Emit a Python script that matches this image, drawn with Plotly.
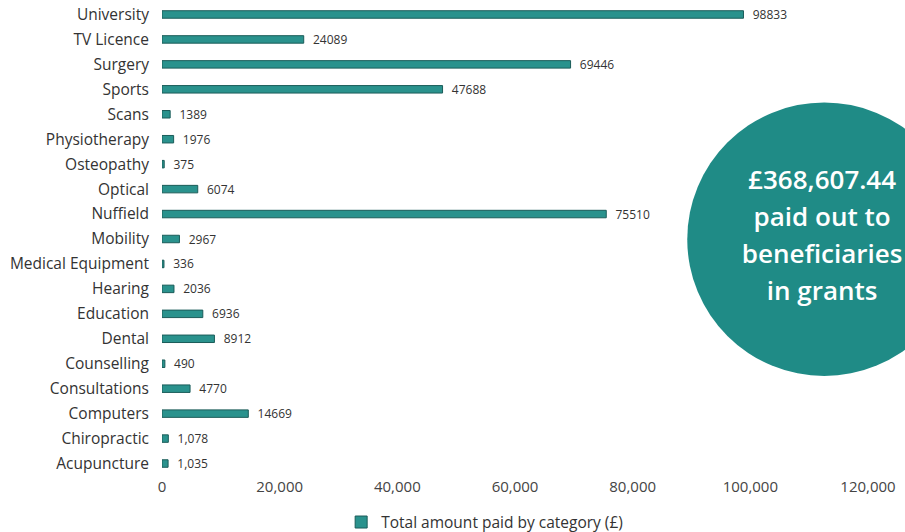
import plotly.graph_objects as go

categories = ["University", "TV Licence", "Surgery", "Sports", "Scans", "Physiotherapy",
              "Osteopathy", "Optical", "Nuffield", "Mobility", "Medical Equipment",
              "Hearing", "Education", "Dental", "Counselling", "Consultations",
              "Computers", "Chiropractic", "Acupuncture"]
values = [98833, 24089, 69446, 47688, 1389, 1976, 375, 6074, 75510, 2967, 336,
          2036, 6936, 8912, 490, 4770, 14669, 1078, 1035]
value_labels = ["98833", "24089", "69446", "47688", "1389", "1976", "375", "6074",
                "75510", "2967", "336", "2036", "6936", "8912", "490", "4770",
                "14669", "1,078", "1,035"]
x_ticks = [0, 20000, 40000, 60000, 80000, 100000, 120000]
x_tick_labels = ["0", "20,000", "40,000", "60,000", "80,000", "100,000", "120,000"]
series_name = "Total amount paid by category (£)"
callout_lines = ["£368,607.44", "paid out to", "beneficiaries", "in grants"]

teal = "#2a928d"
FONT = "Open Sans"

fig = go.Figure()
fig.add_trace(go.Bar(
    x=values, y=categories, orientation="h", name=series_name,
    marker=dict(color=teal, line=dict(color="#1b5c59", width=1)),
    text=["  " + t for t in value_labels], textposition="outside",
    constraintext="none",
    textfont=dict(family=FONT, size=12, color="#333333"),
    cliponaxis=False,
))

# callout text lines on an invisible overlay axis spanning the plot area (0..1)
line_pos = [0.619, 0.541, 0.463, 0.385]
fig.add_trace(go.Scatter(
    x=[0.935] * len(callout_lines), y=line_pos, xaxis="x2", yaxis="y2", mode="text",
    text=callout_lines, textposition="middle center", showlegend=False,
    hoverinfo="skip", cliponaxis=False,
    textfont=dict(family=FONT, size=26, color="white", weight=600),
))

fig.update_layout(
    width=905, height=532,
    margin=dict(l=162, r=37, t=2, b=56, autoexpand=False),
    paper_bgcolor="white", plot_bgcolor="white",
    bargap=0.7,
    showlegend=True,
    legend=dict(orientation="h", x=0.457, xanchor="center", y=-0.098, yanchor="middle",
                font=dict(family=FONT, size=15.5, color="#333333")),
    xaxis=dict(range=[0, 120000], tickvals=x_ticks, ticktext=x_tick_labels,
               showgrid=False, zeroline=False, showline=False, automargin=False,
               tickfont=dict(family=FONT, size=15, color="#444444")),
    yaxis=dict(autorange="reversed", showgrid=False, zeroline=False, showline=False,
               ticks="", ticklabelstandoff=12, automargin=False,
               tickfont=dict(family=FONT, size=15.5, color="#333333")),
    xaxis2=dict(overlaying="x", range=[0, 1], visible=False, anchor="y2"),
    yaxis2=dict(overlaying="y", range=[0, 1], visible=False, anchor="x2"),
    shapes=[dict(type="circle", xref="paper", yref="paper",
                 x0=0.744, x1=1.132, y0=0.211, y1=0.788,
                 fillcolor="#1f8b86", line=dict(width=0), layer="below")],
)

fig.write_html("out.html", config={"displayModeBar": False},
               post_script="document.body.style.margin='0';")
